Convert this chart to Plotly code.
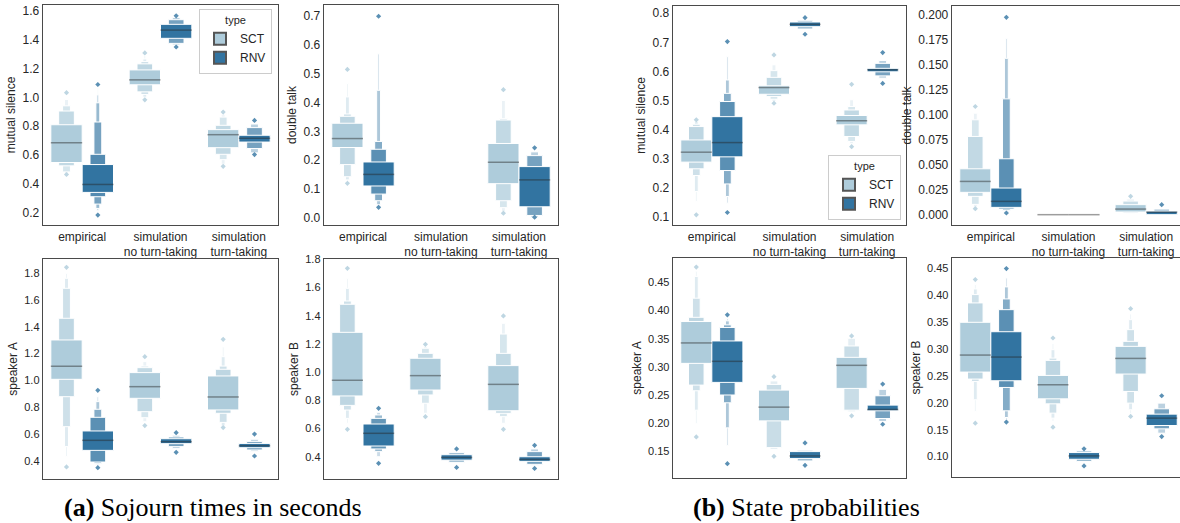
import plotly.graph_objects as go

# ---------------- data ----------------
categories = ["empirical", "simulation<br>no turn-taking", "simulation<br>turn-taking"]
types = ["SCT", "RNV"]

# letter-value levels per category, innermost (box) first: (low, high)
# (a) Sojourn times -- mutual silence
ms_soj_sct = dict(
    median=[0.686, 1.121, 0.741],
    levels=[[(0.548, 0.810), (0.525, 0.905), (0.483, 0.941), (0.472, 0.985)],
            [(1.087, 1.190), (1.038, 1.232), (1.020, 1.248), (1.001, 1.266), (0.990, 1.290)],
            [(0.651, 0.776), (0.605, 0.806), (0.568, 0.863), (0.536, 0.879)]],
    outliers=[[1.032, 0.465], [1.308, 0.983], [0.898, 0.522]])
ms_soj_rnv = dict(
    median=[0.396, 1.466, 0.716],
    levels=[[(0.341, 0.534), (0.311, 0.605), (0.260, 0.829), (0.230, 0.962), (0.214, 1.017), (0.200, 1.059)],
            [(1.409, 1.506), (1.374, 1.538), (1.363, 1.554)],
            [(0.690, 0.737), (0.645, 0.790), (0.615, 0.815)]],
    outliers=[[1.089, 0.184], [1.565, 1.349], [0.840, 0.603]])
# (a) double talk
dt_soj_sct = dict(
    median=[0.275, None, 0.193],
    levels=[[(0.244, 0.328), (0.185, 0.352), (0.143, 0.360), (0.132, 0.419), (0.123, 0.465)],
            [],
            [(0.119, 0.258), (0.060, 0.339), (0.036, 0.344), (0.023, 0.407)]],
    outliers=[[0.514, 0.120], [], [0.444, 0.017]])
dt_soj_rnv = dict(
    median=[0.151, None, 0.132],
    levels=[[(0.111, 0.194), (0.083, 0.238), (0.060, 0.265), (0.046, 0.442), (0.040, 0.568)],
            [],
            [(0.039, 0.178), (0.009, 0.216), (0.003, 0.229)]],
    outliers=[[0.698, 0.037], [], [0.243, 0.003]])
# (a) speaker A
a_soj_sct = dict(
    median=[1.105, 0.953, 0.876],
    levels=[[(1.008, 1.302), (0.878, 1.464), (0.654, 1.688), (0.505, 1.763), (0.430, 1.800)],
            [(0.866, 1.058), (0.766, 1.095), (0.721, 1.107), (0.691, 1.140)],
            [(0.779, 1.033), (0.754, 1.083), (0.686, 1.107), (0.659, 1.177), (0.650, 1.250)]],
    outliers=[[1.845, 0.353], [1.177, 0.662], [1.307, 0.647]])
a_soj_rnv = dict(
    median=[0.552, 0.542, 0.512],
    levels=[[(0.477, 0.622), (0.390, 0.724), (0.380, 0.784), (0.370, 0.841), (0.360, 0.878)],
            [(0.527, 0.564), (0.505, 0.577), (0.490, 0.590)],
            [(0.497, 0.529), (0.480, 0.544), (0.470, 0.560)]],
    outliers=[[0.926, 0.348], [0.609, 0.462], [0.599, 0.435]])
# (a) speaker B
b_soj_sct = dict(
    median=[0.942, 0.975, 0.913],
    levels=[[(0.831, 1.282), (0.764, 1.481), (0.731, 1.504), (0.672, 1.594), (0.637, 1.665)],
            [(0.873, 1.098), (0.838, 1.133), (0.779, 1.169), (0.708, 1.180)],
            [(0.726, 1.046), (0.708, 1.133), (0.684, 1.270), (0.637, 1.346)]],
    outliers=[[1.736, 0.594], [1.197, 0.684], [1.398, 0.594]])
b_soj_rnv = dict(
    median=[0.566, 0.395, 0.381],
    levels=[[(0.476, 0.632), (0.455, 0.672), (0.436, 0.696), (0.400, 0.715)],
            [(0.376, 0.414), (0.360, 0.429)],
            [(0.367, 0.400), (0.346, 0.436), (0.340, 0.455)]],
    outliers=[[0.743, 0.353], [0.455, 0.324], [0.481, 0.317]])

# (b) State probabilities -- mutual silence
ms_prob_sct = dict(
    median=[0.323, 0.545, 0.431],
    levels=[[(0.289, 0.365), (0.266, 0.411), (0.243, 0.419), (0.188, 0.428), (0.154, 0.430)],
            [(0.522, 0.551), (0.514, 0.580), (0.505, 0.603), (0.497, 0.623)],
            [(0.417, 0.449), (0.377, 0.468), (0.360, 0.480), (0.352, 0.503)]],
    outliers=[[0.434, 0.108], [0.657, 0.491], [0.556, 0.342]])
ms_prob_rnv = dict(
    median=[0.356, 0.762, 0.606],
    levels=[[(0.307, 0.445), (0.260, 0.497), (0.214, 0.525), (0.171, 0.571), (0.148, 0.651)],
            [(0.754, 0.770), (0.746, 0.776)],
            [(0.599, 0.611), (0.585, 0.628), (0.577, 0.638)]],
    outliers=[[0.703, 0.116], [0.785, 0.728], [0.665, 0.559]])
# (b) double talk
dt_prob_sct = dict(
    median=[0.0332, 0.0, 0.0056],
    levels=[[(0.0223, 0.0458), (0.0183, 0.0781), (0.0103, 0.0947), (0.0076, 0.1013)],
            [],
            [(0.0027, 0.0100), (0.0017, 0.0136), (0.0010, 0.0156)]],
    outliers=[[0.108, 0.006], [], [0.0183]])
dt_prob_rnv = dict(
    median=[0.0133, 0.0, 0.0025],
    levels=[[(0.0073, 0.0266), (0.0057, 0.0558), (0.0043, 0.1156), (0.0033, 0.1561), (0.0025, 0.176)],
            [],
            [(0.0, 0.0035), (0.0, 0.0056)]],
    outliers=[[0.197, 0.0017], [], [0.010]])
# (b) speaker A
a_prob_sct = dict(
    median=[0.3425, 0.2284, 0.3027],
    levels=[[(0.3062, 0.3805), (0.2676, 0.388), (0.2575, 0.422), (0.223, 0.4607), (0.199, 0.470)],
            [(0.204, 0.2587), (0.1565, 0.2688), (0.153, 0.275)],
            [(0.2617, 0.3169), (0.223, 0.3371), (0.220, 0.3508)]],
    outliers=[[0.4773, 0.1755], [0.2825, 0.141], [0.355, 0.213]])
a_prob_rnv = dict(
    median=[0.3098, 0.1417, 0.2243],
    levels=[[(0.2724, 0.346), (0.250, 0.370), (0.2361, 0.3746), (0.1916, 0.3817), (0.160, 0.386)],
            [(0.137, 0.1494), (0.1328, 0.1518)],
            [(0.2219, 0.232), (0.2082, 0.2486), (0.203, 0.260)]],
    outliers=[[0.3924, 0.128], [0.1648, 0.125], [0.2694, 0.198]])
# (b) speaker B
b_prob_sct = dict(
    median=[0.2886, 0.2334, 0.2824],
    levels=[[(0.257, 0.3495), (0.244, 0.3855), (0.2396, 0.401), (0.2055, 0.4115), (0.1838, 0.420)],
            [(0.2073, 0.2508), (0.198, 0.2787), (0.1807, 0.283), (0.1714, 0.2986), (0.165, 0.310)],
            [(0.2533, 0.3048), (0.221, 0.3141), (0.1993, 0.3358), (0.1869, 0.3544), (0.180, 0.365)]],
    outliers=[[0.4289, 0.162], [0.3203, 0.1546], [0.3749, 0.1745]])
b_prob_rnv = dict(
    median=[0.2849, 0.1012, 0.1714],
    levels=[[(0.2409, 0.332), (0.2284, 0.373), (0.185, 0.3929), (0.1726, 0.4153), (0.168, 0.432)],
            [(0.095, 0.1074), (0.0907, 0.1105)],
            [(0.1577, 0.1788), (0.1515, 0.1887), (0.1434, 0.1993)]],
    outliers=[[0.4494, 0.164], [0.1143, 0.0826], [0.213, 0.1372]])

# ---------------- styling / layout ----------------
BASE = {"SCT": (174, 204, 219), "RNV": (50, 116, 161)}
FONT = "Liberation Sans, Arial, sans-serif"
SERIF = "Liberation Serif, Times New Roman, serif"
W, H = 1186, 523          # a little wider than the window: last panel runs off the edge


def px_x(v):
    return v / W


def px_y(v):
    return 1 - v / H


# panel: (ytitle, sct, rnv, yrange, dtick, tickformat, x_px, y_px, row)
panels = [
    ("mutual silence", ms_soj_sct, ms_soj_rnv, [0.115, 1.64], 0.2, ".1f", (43, 278), (5, 225), 0),
    ("double talk", dt_soj_sct, dt_soj_rnv, [-0.024, 0.737], 0.1, ".1f", (324, 558), (5, 225), 0),
    ("mutual silence", ms_prob_sct, ms_prob_rnv, [0.073, 0.825], 0.1, ".1f", (673, 906), (6, 225), 0),
    ("double talk", dt_prob_sct, dt_prob_rnv, [-0.0103, 0.2083], 0.025, ".3f", (952, 1185), (6, 225), 0),
    ("speaker A", a_soj_sct, a_soj_rnv, [0.263, 1.907], 0.2, ".1f", (43, 278), (259, 479), 1),
    ("speaker B", b_soj_sct, b_soj_rnv, [0.242, 1.802], 0.2, ".1f", (324, 558), (259, 479), 1),
    ("speaker A", a_prob_sct, a_prob_rnv, [0.1025, 0.4934], 0.05, ".2f", (673, 906), (258, 478), 1),
    ("speaker B", b_prob_sct, b_prob_rnv, [0.062, 0.469], 0.05, ".2f", (952, 1185), (258, 477), 1),
]


def level_color(base, i, k):
    t = i / max(k, 1)
    r, g, b = (round(c * (1 - t) + 255 * t) for c in base)
    return f"rgb({r},{g},{b})"


fig = go.Figure()
layout = {}
for p, (ytitle, sct, rnv, yr, dtick, tfmt, xpx, ypx, row) in enumerate(panels):
    sfx = "" if p == 0 else str(p + 1)
    xa, ya = "x" + sfx, "y" + sfx
    for j, (tname, d) in enumerate(zip(types, (sct, rnv))):
        base = BASE[tname]
        off = -0.2 if j == 0 else 0.2
        for c in range(len(categories)):
            levels = d["levels"][c]
            med = d["median"][c]
            x0 = c + off
            k = len(levels)
            for i in reversed(range(k)):
                lo, hi = levels[i]
                fig.add_trace(go.Bar(
                    x=[x0], y=[hi - lo], base=[lo], width=0.4 * 0.5 ** i,
                    marker=dict(color=level_color(base, i, k),
                                line=dict(color="white", width=1)),
                    xaxis=xa, yaxis=ya, showlegend=False, hoverinfo="skip"))
            if med is not None:
                fig.add_trace(go.Scatter(
                    x=[x0 - 0.2, x0 + 0.2], y=[med, med], mode="lines",
                    line=dict(color="rgba(38,38,38,0.45)", width=1.5),
                    xaxis=xa, yaxis=ya, showlegend=False, hoverinfo="skip"))
            outs = d["outliers"][c]
            if outs:
                fig.add_trace(go.Scatter(
                    x=[x0] * len(outs), y=outs, mode="markers",
                    marker=dict(symbol="diamond", size=4,
                                color=level_color(base, 1, 5)),
                    xaxis=xa, yaxis=ya, showlegend=False, hoverinfo="skip"))
    layout["xaxis" + sfx] = dict(
        domain=[px_x(xpx[0]), px_x(xpx[1])], range=[-0.5, 2.5], anchor=ya,
        automargin=False,
        tickvals=list(range(len(categories))), ticktext=categories,
        showticklabels=(row == 0), ticks="", showgrid=False, zeroline=False,
        showline=True, mirror=True, linecolor="#4a4a4a", linewidth=1.3,
        tickfont=dict(family=FONT, size=12, color="#262626"))
    layout["yaxis" + sfx] = dict(
        domain=[px_y(ypx[1]), px_y(ypx[0])], range=yr, anchor=xa,
        automargin=False,
        dtick=dtick, tick0=0, tickformat=tfmt, ticks="", showgrid=False,
        zeroline=False, showline=True, mirror=True, linecolor="#4a4a4a",
        linewidth=1.3,
        tickfont=dict(family=FONT, size=12 if row == 0 else 11, color="#262626"),
        title=dict(text=ytitle, standoff=4,
                   font=dict(family=FONT, size=12, color="#262626")))

# legend entries (panel 1 -> legend, panel 3 -> legend2)
for lg in ("legend", "legend2"):
    for tname in types:
        fig.add_trace(go.Bar(
            x=[None], y=[None], name=tname, legend=lg,
            marker=dict(color=level_color(BASE[tname], 0, 1),
                        line=dict(color="#555555", width=1)),
            xaxis="x", yaxis="y", showlegend=True))

legend_style = dict(
    bgcolor="white", bordercolor="#cccccc", borderwidth=1,
    font=dict(family=FONT, size=12, color="#262626"),
    title=dict(text="type", side="top center",
               font=dict(family=FONT, size=11, color="#262626")),
    itemsizing="constant", tracegroupgap=0)

fig.update_layout(
    width=W, height=H, margin=dict(l=0, r=0, t=0, b=0, autoexpand=False),
    paper_bgcolor="white", plot_bgcolor="white", barmode="overlay",
    bargap=0, showlegend=True,
    legend=dict(x=px_x(272), xanchor="right", y=px_y(9), yanchor="top", **legend_style),
    legend2=dict(x=px_x(901), xanchor="right", y=px_y(220), yanchor="bottom", **legend_style),
    **layout)

fig.add_annotation(text="<b>(a)</b> Sojourn times in seconds", x=px_x(213), y=px_y(507),
                   xref="paper", yref="paper", xanchor="center", yanchor="middle",
                   showarrow=False, font=dict(family=SERIF, size=26, color="black"))
fig.add_annotation(text="<b>(b)</b> State probabilities", x=px_x(806), y=px_y(507),
                   xref="paper", yref="paper", xanchor="center", yanchor="middle",
                   showarrow=False, font=dict(family=SERIF, size=26, color="black"))

# remove the browser's default page margin so the figure starts at the window corner
fig.write_html("out.html",
               config={"displayModeBar": False, "staticPlot": True},
               post_script="document.body.style.margin='0';"
                           "document.body.style.overflow='hidden';")
